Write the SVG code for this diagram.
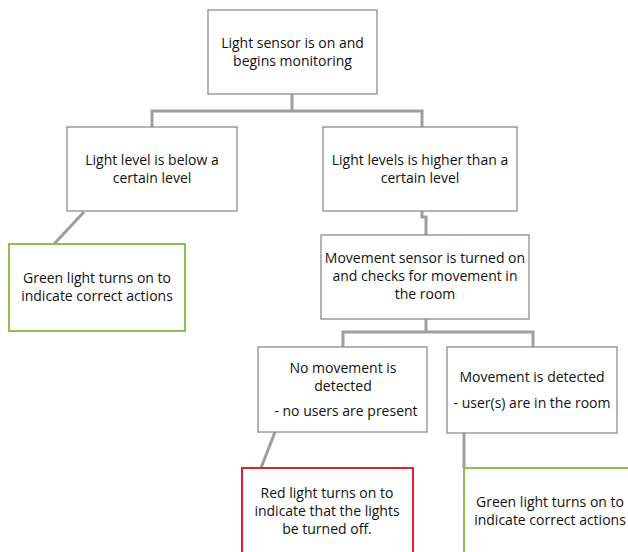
<svg xmlns="http://www.w3.org/2000/svg" width="628" height="552" viewBox="0 0 628 552">
<style>
.box{fill:#fff;stroke:#8c8c8c;stroke-width:1.3}
.green{fill:#fff;stroke:#8cc152;stroke-width:2}
.red{fill:#fff;stroke:#e0202a;stroke-width:2}
.t{font-family:"Open Sans","Liberation Sans",sans-serif;font-size:14px;fill:#111;text-anchor:middle}
.c{fill:none;stroke:#9e9e9e;stroke-width:3}
</style>
<rect width="628" height="552" fill="#fff"/>
<g id="connectors">
<path class="c" d="M292,94 V111 M152,127 V111 H422 V127"/>
<path class="c" d="M422,211 V217 H426 V235"/>
<path class="c" d="M84,212 L54,244"/>
<path class="c" d="M426,319 V332 M343,347 V332 H533 V347"/>
<path class="c" d="M275,432 L261,468"/>
<path class="c" d="M464,433 V468"/>
</g>
<g id="start">
<rect class="box" x="208" y="10" width="169" height="84"/>
<text class="t" x="292.5" y="48">Light sensor is on and</text>
<text class="t" x="292.5" y="66">begins monitoring</text>
</g>
<g id="below">
<rect class="box" x="67" y="127" width="170" height="84"/>
<text class="t" x="152" y="165">Light level is below a</text>
<text class="t" x="152" y="183">certain level</text>
</g>
<g id="higher">
<rect class="box" x="323" y="127" width="194" height="84"/>
<text class="t" x="420" y="165">Light levels is higher than a</text>
<text class="t" x="420" y="183">certain level</text>
</g>
<g id="green-left">
<rect class="green" x="9" y="244" width="176" height="87"/>
<text class="t" x="97" y="283">Green light turns on to</text>
<text class="t" x="97" y="301">indicate correct actions</text>
</g>
<g id="movement-sensor">
<rect class="box" x="321" y="235" width="208" height="84"/>
<text class="t" x="425" y="263">Movement sensor is turned on</text>
<text class="t" x="425" y="281">and checks for movement in</text>
<text class="t" x="425" y="299">the room</text>
</g>
<g id="no-movement">
<rect class="box" x="258" y="347" width="169" height="85"/>
<text class="t" x="343" y="373">No movement is</text>
<text class="t" x="343" y="391">detected</text>
<text class="t" x="346" y="416">- no users are present</text>
</g>
<g id="movement">
<rect class="box" x="447" y="347" width="170" height="86"/>
<text class="t" x="532" y="382">Movement is detected</text>
<text class="t" x="532" y="408">- user(s) are in the room</text>
</g>
<g id="red-light">
<rect class="red" x="242" y="468" width="171" height="95"/>
<text class="t" x="327" y="498">Red light turns on to</text>
<text class="t" x="327" y="516">indicate that the lights</text>
<text class="t" x="327" y="534">be turned off.</text>
</g>
<g id="green-right">
<rect class="green" x="464" y="468" width="172" height="95"/>
<text class="t" x="550" y="507">Green light turns on to</text>
<text class="t" x="550" y="525">indicate correct actions</text>
</g>
</svg>
